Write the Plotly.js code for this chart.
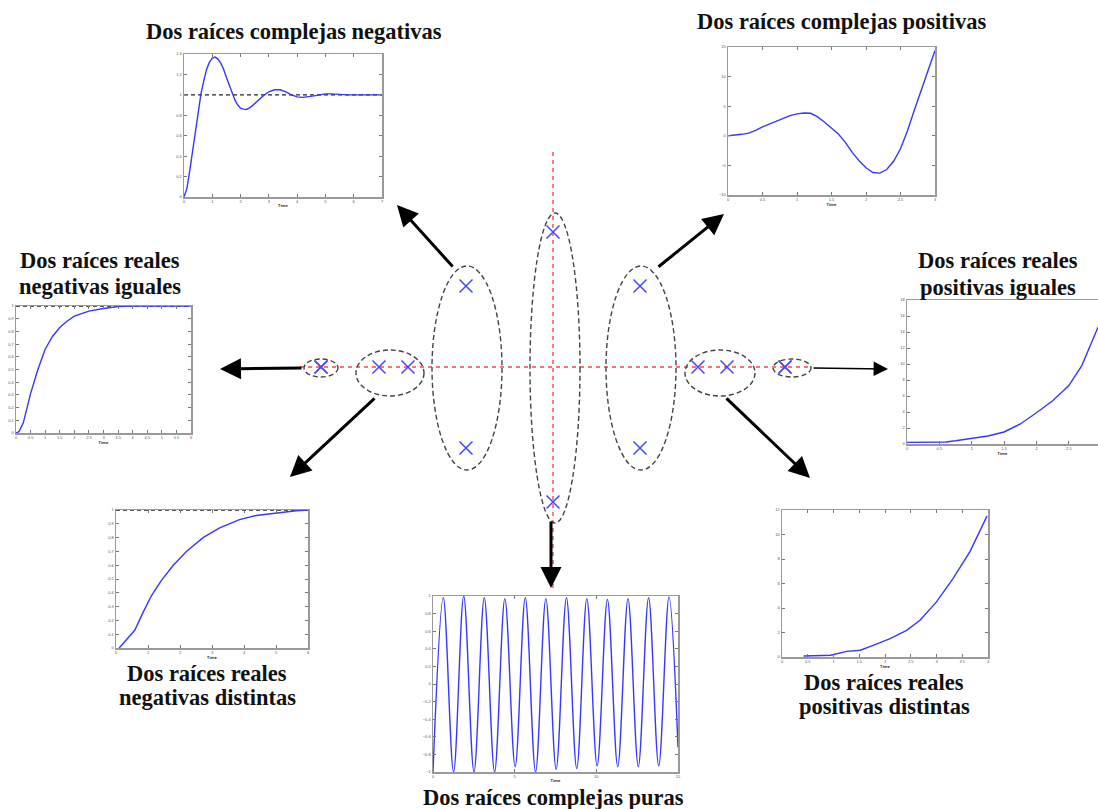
<!DOCTYPE html>
<html><head><meta charset="utf-8">
<script src="https://cdn.plot.ly/plotly-3.0.1.min.js"></script>
<style>html,body{margin:0;padding:0;background:#fff}</style>
</head><body><div id="chart" style="width:1098px;height:809px"></div>
<script>
// ---- s-plane poles ----
const poleRe = [-8, -8, -6, -5, -3, -3, 0, 0, 3, 3, 5, 6, 8, 8];
const poleIm = [0, 0, 0, 0, 3, -3, 5, -5, 3, -3, 0, 0, 0, 0];

// ---- responses ----
const tCN = [0,0.1,0.2,0.3,0.4,0.5,0.6,0.7,0.8,0.9,1.0,1.1,1.2,1.3,1.4,1.5,1.6,1.7,1.8,1.9,2.0,2.1,2.2,2.3,2.4,2.6,2.8,3.0,3.2,3.4,3.6,3.8,4.0,4.2,4.4,4.6,4.8,5.0,5.2,5.4,5.6,5.8,6.0,6.5,7.0];
const yCN = [0,0.08,0.25,0.45,0.66,0.85,1.01,1.14,1.25,1.32,1.36,1.37,1.35,1.31,1.25,1.17,1.09,1.01,0.95,0.90,0.87,0.86,0.857,0.87,0.89,0.94,0.99,1.03,1.05,1.05,1.03,1.00,0.98,0.975,0.98,0.99,1.0,1.01,1.01,1.005,1.0,1.0,1.0,1.0,1.0];

const tCP = [0,0.1,0.2,0.3,0.4,0.5,0.6,0.7,0.8,0.9,1.0,1.1,1.2,1.3,1.4,1.5,1.6,1.7,1.8,1.9,2.0,2.1,2.2,2.3,2.4,2.5,2.6,2.7,2.8,2.9,3.0];
const yCP = [0,0.1,0.25,0.45,0.9,1.5,2.0,2.5,3.0,3.4,3.7,3.85,3.8,3.2,2.3,1.3,0.3,-1.1,-2.8,-4.2,-5.4,-6.2,-6.3,-5.7,-4.3,-2.2,0.8,4.3,7.7,11.0,14.4];

const tNI = [0,0.1,0.25,0.5,0.75,1.0,1.25,1.5,1.75,2.0,2.25,2.5,3.0,3.5,4,5,6];
const yNI = [0,0.01,0.08,0.31,0.5,0.66,0.76,0.83,0.88,0.92,0.94,0.96,0.98,0.995,1,1,1];

const tPI = [0,0.25,0.5,0.6,0.75,1.0,1.25,1.5,1.75,2.0,2.25,2.5,2.7,2.95];
const yPI = [0.2,0.2,0.2,0.25,0.4,0.7,1.0,1.5,2.5,3.9,5.4,7.3,9.8,14.6];

const tND = [0.1,0.38,0.59,0.85,1.11,1.42,1.79,2.2,2.72,3.24,3.86,4.38,5.0,5.63,6.0];
const yND = [0,0.07,0.13,0.26,0.38,0.49,0.6,0.70,0.80,0.87,0.93,0.96,0.98,0.995,1.0];

const tPD = [0.42,0.94,1.26,1.52,1.77,2.1,2.42,2.68,3.0,3.32,3.65,3.98];
const yPD = [0.08,0.14,0.46,0.55,0.95,1.5,2.18,3.0,4.5,6.4,8.6,11.5];

const tPU = [0,0.63,1.26,1.88,2.51,3.14,3.77,4.4,5.03,5.65,6.28,6.91,7.54,8.17,8.8,9.42,10.05,10.68,11.31,11.94,12.57,13.2,13.82,14.45,15];
const yPU = [-1,0.98,-1,1,-1,0.98,-1,0.97,-0.94,0.98,-1,0.97,-0.97,0.98,-0.96,0.97,-0.93,0.96,-0.94,0.97,-0.94,0.98,-0.93,0.99,-0.72];

const titleLines = [
  "Dos raíces complejas negativas",
  "Dos raíces complejas positivas",
  "Dos raíces reales", "negativas iguales",
  "Dos raíces reales", "positivas iguales",
  "Dos raíces reales", "negativas distintas",
  "Dos raíces reales", "positivas distintas",
  "Dos raíces complejas puras"
];

// ---- pixel helpers for the full-page s-plane axis ----
const W = 1098, H = 809;
const X = px => (px - 553) / 29;
const Y = py => (367 - py) / 27;

const BLUE = 'rgb(55,55,255)';
const traces = [];

const subs = [
  {k:2, px:[184,382], py:[54,197],  xr:[0,7],   xd:1,   yr:[0,1.4], yd:0.2, t:tCN, y:yCN, ref:[0,7]},
  {k:3, px:[728,935], py:[47,195],  xr:[0,3],   xd:0.5, yr:[-10,15], yd:5,  t:tCP, y:yCP},
  {k:4, px:[16,191],  py:[306,433], xr:[0,6],   xd:0.5, yr:[0,1],  yd:0.1, t:tNI, y:yNI, ref:[0,6]},
  {k:5, px:[907,1098],py:[300,444], xr:[0,2.95],xd:0.5, yr:[0,18], yd:2,   t:tPI, y:yPI, cut:true},
  {k:6, px:[116,308], py:[510,648], xr:[0,6],   xd:1,   yr:[0,1],  yd:0.1, t:tND, y:yND, ref:[0,6]},
  {k:7, px:[782,988], py:[510,657], xr:[0,4],   xd:0.5, yr:[0,12], yd:2,   t:tPD, y:yPD},
  {k:8, px:[433,678], py:[596,772], xr:[0,15],  xd:5,   yr:[-1,1], yd:0.2, t:tPU, y:yPU, spline:true}
];

const layout = {
  width: W, height: H,
  margin: {l:0, r:0, t:0, b:0},
  paper_bgcolor: '#fff', plot_bgcolor: 'rgba(0,0,0,0)',
  showlegend: false,
  xaxis: {domain:[0,1], range:[X(0), X(W)], visible:false, fixedrange:true},
  yaxis: {domain:[0,1], range:[Y(H), Y(0)], visible:false, fixedrange:true},
  shapes: [], annotations: []
};

subs.forEach(s => {
  const xa = 'xaxis' + s.k, ya = 'yaxis' + s.k;
  const common = {
    showline:true, linecolor:'#9a9a9a', linewidth:1.5, mirror:'ticks',
    ticks:'inside', ticklen:3, tickcolor:'#777', tickwidth:1,
    tickfont:{size:4, color:'#555', family:'Liberation Sans'},
    showgrid:false, zeroline:false, fixedrange:true
  };
  layout[xa] = Object.assign({}, common, {
    domain:[s.px[0]/W, Math.min(1, s.px[1]/W)], range:s.xr, dtick:s.xd, tick0:0,
    anchor:'y'+s.k,
    title:{text:'<b>Time</b>', font:{size:4, color:'#333'}, standoff:1}
  });
  layout[ya] = Object.assign({}, common, {
    domain:[1 - s.py[1]/H, 1 - s.py[0]/H], range:s.yr, dtick:s.yd, tick0:0,
    anchor:'x'+s.k
  });
  if (s.cut) { layout[ya].mirror = false; layout[xa].mirror = true; }
  if (s.ref) {
    traces.push({x:s.ref, y:[1,1], xaxis:'x'+s.k, yaxis:'y'+s.k, mode:'lines',
      line:{color:'#222', width:1.3, dash:'4px,3px'}, hoverinfo:'skip'});
  }
  traces.push({x:s.t, y:s.y, xaxis:'x'+s.k, yaxis:'y'+s.k, mode:'lines',
    line:{color:BLUE, width:1.4, shape: s.spline ? 'spline' : 'linear', smoothing: s.spline ? 1.0 : 0},
    hoverinfo:'skip'});
});

// red dashed real / imaginary axes
layout.shapes.push({type:'line', xref:'x', yref:'y', x0:X(300), x1:X(810), y0:0, y1:0,
  line:{color:'rgb(255,70,70)', width:1.4, dash:'4px,4px'}, layer:'below'});
layout.shapes.push({type:'line', xref:'x', yref:'y', x0:0, x1:0, y0:Y(152), y1:Y(592),
  line:{color:'rgb(255,70,70)', width:1.4, dash:'4px,4px'}, layer:'below'});

// dashed ellipses around the pole groups
const ell = [
  [321,368,17,9],[390,373,34,23],[467,368,35,102],[555,368,25,155],
  [641,368,35,102],[720,373,35,23],[792,368,19,9]
];
ell.forEach(e => {
  layout.shapes.push({type:'circle', xref:'x', yref:'y',
    x0:X(e[0]-e[2]), x1:X(e[0]+e[2]), y0:Y(e[1]+e[3]), y1:Y(e[1]-e[3]),
    line:{color:'#444', width:1.4, dash:'5px,3px'}, layer:'below'});
});

// poles
traces.push({x:poleRe, y:poleIm, xaxis:'x', yaxis:'y', mode:'markers',
  marker:{symbol:'x-thin', size:13, line:{color:'rgb(70,70,255)', width:1.5}}, hoverinfo:'skip'});

// arrows [tipx, tipy, tailx, taily, width, size]
const arrows = [
  [397,205,454,268,3,1.4],
  [724,214,657,268,3,1.4],
  [220,369,303,368,3,1.4],
  [888,369,812,368,1.6,1.8],
  [290,477,376,397,3,1.4],
  [810,478,725,397,3,1.4],
  [551,588,551,520,3,1.4]
];
arrows.forEach(a => {
  layout.annotations.push({xref:'x', yref:'y', axref:'x', ayref:'y',
    x:X(a[0]), y:Y(a[1]), ax:X(a[2]), ay:Y(a[3]), text:'', showarrow:true,
    arrowhead:2, arrowwidth:a[4], arrowsize:a[5], arrowcolor:'#000', standoff:0, startstandoff:0});
});

// title lines [line index, center x, center y]
const tpos = [
  [0,294,32],[1,842,22],
  [2,100,260],[3,100,286],
  [4,998,260],[5,998,287],
  [6,207,673],[7,207,697],
  [8,884,682],[9,884,706],
  [10,553,797]
];
tpos.forEach(p => {
  layout.annotations.push({xref:'paper', yref:'paper', x:p[1]/W, y:1 - p[2]/H,
    xanchor:'center', yanchor:'middle', text:'<b>' + titleLines[p[0]] + '</b>', showarrow:false,
    borderpad:0, font:{family:'Liberation Serif', size:22.5, color:'#111'}});
});

Plotly.newPlot('chart', traces, layout, {displayModeBar:false, staticPlot:true});
</script></body></html>
